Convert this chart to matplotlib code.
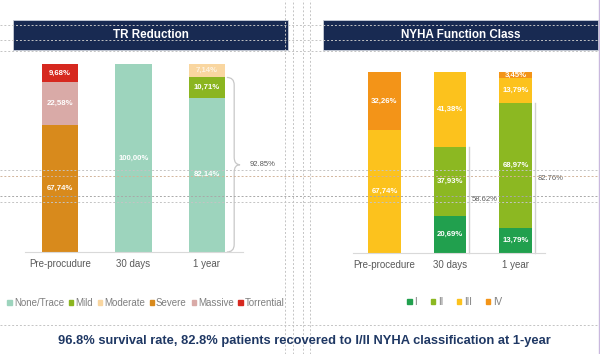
import matplotlib
matplotlib.use("Agg")
import matplotlib.pyplot as plt
from matplotlib.patches import Rectangle, Patch, PathPatch
from matplotlib.path import Path
from matplotlib.lines import Line2D

plt.rcParams['font.family'] = ['Liberation Sans', 'DejaVu Sans']

# --- data ---
visits = ["Pre-procudure", "30 days", "1 year"]
tr_grades = ["None/Trace", "Mild", "Moderate", "Severe", "Massive", "Torrential"]
tr_values = {
    "None/Trace": [0, 100.00, 82.14],
    "Mild":       [0, 0, 10.71],
    "Moderate":   [0, 0, 7.14],
    "Severe":     [67.74, 0, 0],
    "Massive":    [22.58, 0, 0],
    "Torrential": [9.68, 0, 0],
}
tr_colors = ["#9dd4bd", "#8bb520", "#f9d6a0", "#d88a1c", "#d9aaa7", "#d6281f"]
tr_total_label = "92.85%"

nyha_visits = ["Pre-procedure", "30 days", "1 year"]
nyha_classes = ["I", "II", "III", "IV"]
nyha_values = {
    "I":   [0, 20.69, 13.79],
    "II":  [0, 37.93, 68.97],
    "III": [67.74, 41.38, 13.79],
    "IV":  [32.26, 0, 3.45],
}
nyha_colors = ["#21a04e", "#8cb822", "#fcc21d", "#f39418"]
nyha_total_labels = ["58.62%", "82.76%"]

footer = "96.8% survival rate, 82.8% patients recovered to I/II NYHA classification at 1-year"

W, H = 600, 354
fig = plt.figure(figsize=(W / 100, H / 100), dpi=100)
fig.patch.set_facecolor("white")


def px_axes(x0, x1, ybase, ytop):
    return fig.add_axes([x0 / W, (H - ybase) / H, (x1 - x0) / W, (ybase - ytop) / H])


def fmt(v):
    return f"{v:.2f}%".replace(".", ",")


def stack(ax, cats, names, values, colors):
    bottoms = [0.0] * len(cats)
    x = list(range(len(cats)))
    for name, col in zip(names, colors):
        vals = values[name]
        ax.bar(x, vals, width=0.5, bottom=bottoms, color=col, edgecolor="none", zorder=2)
        for i, v in enumerate(vals):
            if v > 0:
                tc = "#fdf3e3" if col == "#f9d6a0" else "white"
                ax.text(i, bottoms[i] + v / 2, fmt(v), ha="center", va="center",
                        fontsize=5.6, color=tc, fontweight="bold", zorder=3)
        bottoms = [b + v for b, v in zip(bottoms, vals)]
    ax.set_xticks(x)
    ax.set_xticklabels(cats, fontsize=7, color="#595959")
    ax.set_ylim(0, 100)
    ax.set_yticks([])
    for s in ["top", "right", "left"]:
        ax.spines[s].set_visible(False)
    ax.spines["bottom"].set_color("#d9d9d9")
    ax.tick_params(axis="x", length=0, pad=5)
    ax.set_facecolor("none")


# --- left: TR reduction ---
axl = px_axes(25, 243, 252, 64)
axl.set_xlim(-0.476, 2.49)
stack(axl, visits, tr_grades, tr_values, tr_colors)

# curly brace beside the 1 year bar
top = tr_values["None/Trace"][2] + tr_values["Mild"][2]
mid = top / 2
x0, x1, xt, r = 2.27, 2.37, 2.45, 4
verts = [(x0, top), (x1, top), (x1, top - r), (x1, mid + r), (x1, mid), (xt, mid),
         (x1, mid), (x1, mid - r), (x1, r), (x1, 0), (x0, 0)]
codes = [Path.MOVETO, Path.CURVE3, Path.CURVE3, Path.LINETO, Path.CURVE3, Path.CURVE3,
         Path.CURVE3, Path.CURVE3, Path.LINETO, Path.CURVE3, Path.CURVE3]
axl.add_patch(PathPatch(Path(verts, codes), fill=False, edgecolor="#c8c8c8", lw=0.9, clip_on=False))
axl.text(2.58, mid, tr_total_label, fontsize=5.5, color="#595959", va="center", ha="left")

axl.legend(handles=[Patch(color=c, label=n) for n, c in zip(tr_grades, tr_colors)],
           loc="center", bbox_to_anchor=(0.555, -0.27), ncol=6, frameon=False, fontsize=7,
           handlelength=0.45, handleheight=0.45, handletextpad=0.2, columnspacing=0.5,
           labelcolor="#7f7f7f", borderpad=0)

# --- right: NYHA ---
axr = px_axes(353, 545, 253, 72)
axr.set_xlim(-0.48, 2.45)
stack(axr, nyha_visits, nyha_classes, nyha_values, nyha_colors)
for i, lab in zip([1, 2], nyha_total_labels):
    tot = nyha_values["I"][i] + nyha_values["II"][i]
    xl = i + 0.29
    axr.plot([xl, xl], [0, tot], color="#d0d0d0", lw=1.0, clip_on=False)
    axr.text(xl + 0.04, tot / 2, lab, fontsize=5.5, color="#595959", va="center", ha="left")

axr.legend(handles=[Patch(color=c, label=n) for n, c in zip(nyha_classes, nyha_colors)],
           loc="center", bbox_to_anchor=(0.53, -0.27), ncol=4, frameon=False, fontsize=7,
           handlelength=0.45, handleheight=0.45, handletextpad=0.3, columnspacing=1.4,
           labelcolor="#7f7f7f", borderpad=0)

# --- title bars ---
for (bx0, bx1, title) in [(13, 288, "TR Reduction"), (323, 598, "NYHA Function Class")]:
    fig.add_artist(Rectangle((bx0 / W, (H - 50) / H), (bx1 - bx0) / W, 30 / H,
                             transform=fig.transFigure, facecolor="#182a52",
                             edgecolor="#c9ced8", lw=0.6))
    fig.text((bx0 + bx1) / 2 / W, (H - 35) / H, title, ha="center", va="center",
             color="white", fontsize=8.4, fontweight="bold")

fig.text(0.508, (H - 341) / H, footer, ha="center", va="center",
         color="#1f3864", fontsize=9.3, fontweight="bold")

# slide guide lines visible in the screenshot
for y in [25, 40, 51, 170, 202, 325]:
    fig.add_artist(Line2D([0, 1], [(H - y) / H] * 2, transform=fig.transFigure,
                          color="#c4c4c4", lw=0.7, ls=(0, (2, 2))))
for y in [176]:
    fig.add_artist(Line2D([0, 1], [(H - y) / H] * 2, transform=fig.transFigure,
                          color="#d2b49a", lw=0.7, ls=(0, (2, 2))))
for y in [196]:
    fig.add_artist(Line2D([0, 1], [(H - y) / H] * 2, transform=fig.transFigure,
                          color="#a8a8a8", lw=0.7, ls=(0, (2, 2))))
for x in [285, 293, 303, 310]:
    fig.add_artist(Line2D([x / W] * 2, [0, 1], transform=fig.transFigure,
                          color="#c4c4c4", lw=0.7, ls=(0, (2, 2))))
fig.add_artist(Line2D([598.5 / W] * 2, [0, 1], transform=fig.transFigure, color="#c9b8de", lw=1))

fig.savefig("out.png", dpi=100)
